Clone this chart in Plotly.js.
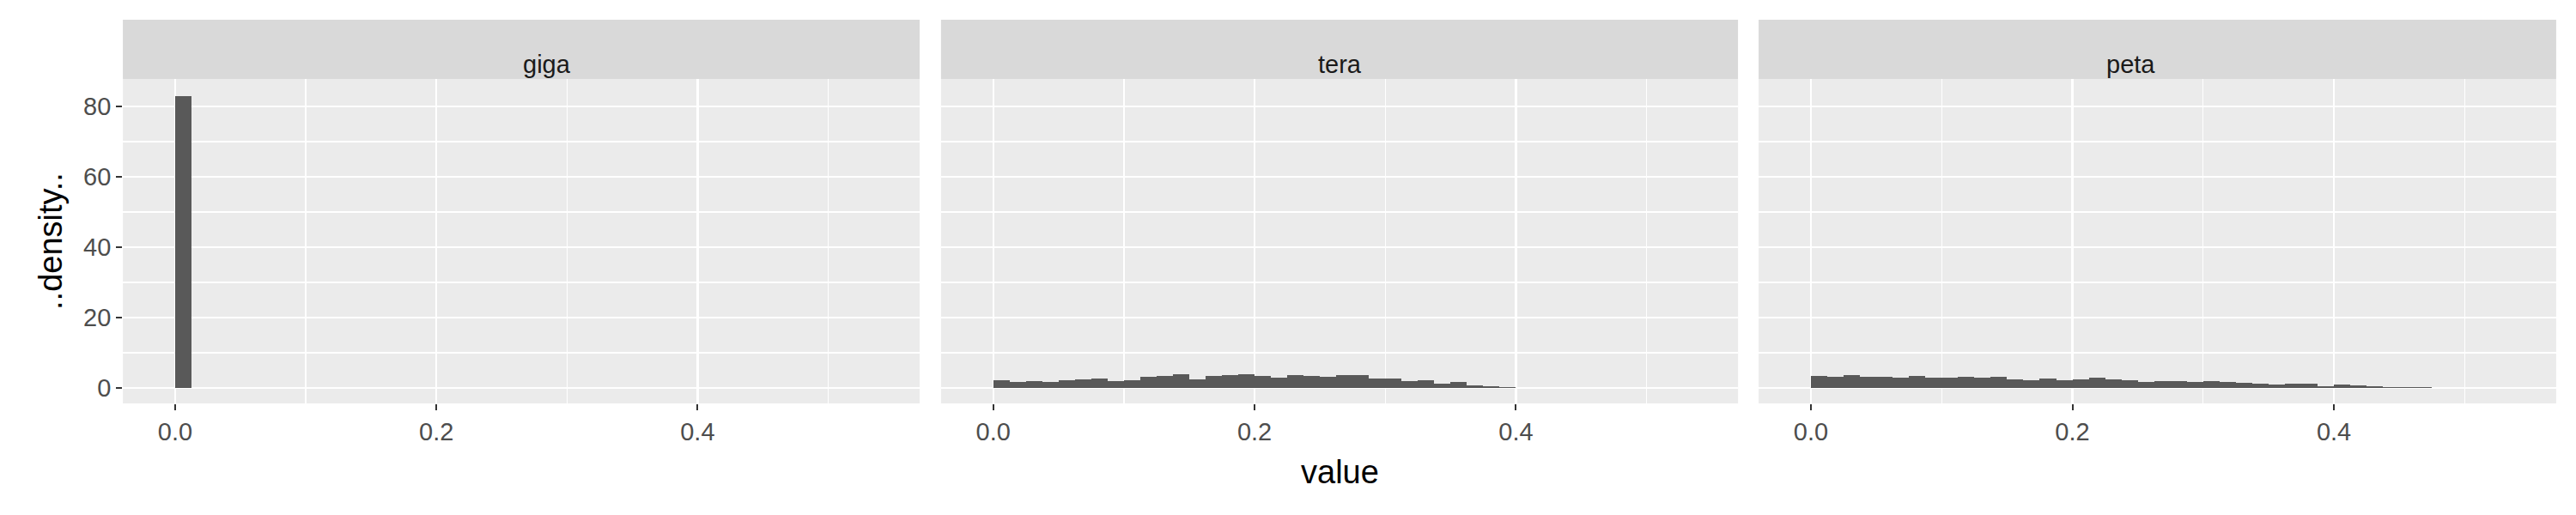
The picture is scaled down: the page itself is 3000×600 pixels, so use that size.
<!DOCTYPE html>
<html>
<head>
<meta charset="utf-8">
<script src="https://cdn.plot.ly/plotly-3.0.1.min.js"></script>
<style>body{margin:0;} #plot{width:3000px;height:600px;}</style>
</head>
<body>
<div id="plot"></div>
<script>
// histogram densities, bins of width 0.0125 starting at 0
const binWidth = 0.0125;
const panels = ["giga", "tera", "peta"];
const giga = [83];
const tera = [2.15, 1.65, 1.9, 1.65, 2.15, 2.4, 2.6, 1.95, 2.15, 3.1, 3.35, 3.85, 2.4, 3.35, 3.6, 3.85,
              3.35, 2.85, 3.6, 3.35, 3.1, 3.6, 3.6, 2.6, 2.6, 1.9, 2.15, 1.15, 1.65, 0.65, 0.4, 0.15];
const peta = [3.35, 3.1, 3.6, 3.1, 3.1, 2.85, 3.35, 2.85, 2.85, 3.1, 2.85, 3.1, 2.4, 2.15, 2.6, 2.15,
              2.4, 2.85, 2.4, 2.15, 1.65, 1.9, 1.9, 1.65, 1.9, 1.65, 1.4, 1.15, 0.9, 1.15, 1.15, 0.4,
              0.9, 0.65, 0.4, 0.15, 0.15, 0.15];
const xTicks = [0, 0.2, 0.4];
const yTicks = [0, 20, 40, 60, 80];

const series = [giga, tera, peta];
const domains = [[0.0477, 0.357], [0.3653, 0.6747], [0.6827, 0.9923]];
const yDom = [0.2167, 0.8467];
const font = "Liberation Sans, Arial, sans-serif";

let data = [];
let layout = {
    width: 3000, height: 600,
    margin: {l: 0, r: 0, t: 0, b: 0},
    paper_bgcolor: "white", plot_bgcolor: "#ebebeb",
    showlegend: false, bargap: 0,
    font: {family: font},
    shapes: [], annotations: []
};

series.forEach((vals, i) => {
    const n = i === 0 ? "" : String(i + 1);
    data.push({
        type: "bar",
        x: vals.map((_, k) => (k + 0.5) * binWidth),
        y: vals,
        width: binWidth,
        marker: {color: "#595959", line: {width: 0}},
        xaxis: "x" + n, yaxis: "y" + n
    });
    layout["xaxis" + n] = {
        domain: domains[i], range: [-0.04, 0.57], anchor: "y" + n,
        tickvals: xTicks, ticktext: xTicks.map(v => v.toFixed(1)),
        ticks: "outside", ticklen: 7, tickwidth: 2, tickcolor: "#333",
        tickfont: {size: 29, color: "#4d4d4d"},
        showgrid: true, gridcolor: "white", gridwidth: 2.5,
        minor: {tickvals: [0.1, 0.3, 0.5], showgrid: true, gridcolor: "white", gridwidth: 1.2, ticks: ""},
        zeroline: false, showline: false, fixedrange: true
    };
    layout["yaxis" + n] = {
        domain: yDom, range: [-4.4, 87.8], anchor: "x" + n,
        tickvals: yTicks, showticklabels: i === 0,
        ticks: i === 0 ? "outside" : "", ticklen: 7, tickwidth: 2, tickcolor: "#333",
        tickfont: {size: 29, color: "#4d4d4d"},
        showgrid: true, gridcolor: "white", gridwidth: 2.5,
        minor: {tickvals: [10, 30, 50, 70], showgrid: true, gridcolor: "white", gridwidth: 1.2, ticks: ""},
        zeroline: false, showline: false, fixedrange: true
    };
    layout.shapes.push({
        type: "rect", xref: "paper", yref: "paper",
        x0: domains[i][0], x1: domains[i][1], y0: yDom[1], y1: 0.9617,
        fillcolor: "#d9d9d9", line: {width: 0}
    });
    layout.annotations.push({
        xref: "paper", yref: "paper", showarrow: false,
        x: (domains[i][0] + domains[i][1]) / 2, y: (yDom[1] + 0.9617) / 2,
        text: panels[i], font: {size: 29, color: "#1a1a1a"}
    });
});

layout.annotations.push({
    xref: "paper", yref: "paper", showarrow: false,
    x: domains[1][0] + (domains[1][1] - domains[1][0]) / 2, y: 0.045,
    text: "value", font: {size: 38, color: "black"}
});
layout.annotations.push({
    xref: "paper", yref: "paper", showarrow: false, textangle: -90,
    x: 0.012, y: (yDom[0] + yDom[1]) / 2,
    text: "..density..", font: {size: 38, color: "black"}
});

Plotly.newPlot("plot", data, layout, {displayModeBar: false, staticPlot: true});
</script>
</body>
</html>
